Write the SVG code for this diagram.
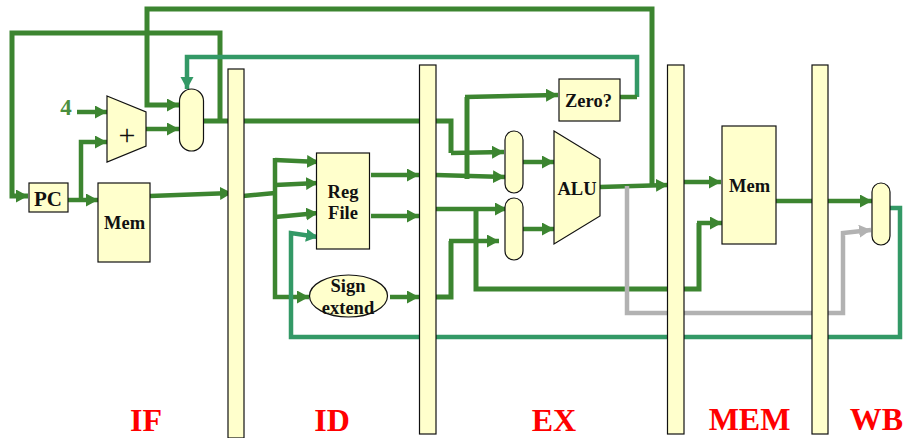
<svg xmlns="http://www.w3.org/2000/svg" width="904" height="438" viewBox="0 0 904 438">
<style>
.w{fill:none;stroke:#3c8530;stroke-width:4.500;stroke-linejoin:miter}
.b{stroke-width:5}
.t{fill:none;stroke:#339966;stroke-width:4.500}
.g{fill:none;stroke:#b2b2b2;stroke-width:4.500}
.n{fill:#ffffcc;stroke:#111;stroke-width:1.200}
.l{font-family:"Liberation Serif",serif;font-weight:700;font-size:18.500px;fill:#111;text-anchor:middle}
.s{font-family:"Liberation Serif",serif;font-weight:700;font-size:32px;fill:#ff0000;text-anchor:middle}
</style>
<defs>
<marker id="ag" markerUnits="userSpaceOnUse" markerWidth="14" markerHeight="14" refX="12" refY="6.500" orient="auto"><path d="M0 0L12 6.500L0 13Z" fill="#3c8530"/></marker>
<marker id="at" markerUnits="userSpaceOnUse" markerWidth="14" markerHeight="14" refX="12" refY="6.500" orient="auto"><path d="M0 0L12 6.500L0 13Z" fill="#339966"/></marker>
<marker id="ay" markerUnits="userSpaceOnUse" markerWidth="14" markerHeight="14" refX="12" refY="6.500" orient="auto"><path d="M0 0L12 6.500L0 13Z" fill="#b2b2b2"/></marker>
</defs>
<g id="connectors">
<path class="w b" d="M652 186V9H147V105H179" marker-end="url(#ag)"/>
<path class="w b" d="M220 121V33H12V196H28" marker-end="url(#ag)"/>
<path class="t b" d="M637 97V57H187V89" marker-end="url(#at)"/>
<path class="w" d="M620 97H637"/>
<path class="w" d="M77 112H107" marker-end="url(#ag)"/>
<path class="w" d="M146 129H179" marker-end="url(#ag)"/>
<path class="w" d="M81 199V142H107" marker-end="url(#ag)"/>
<path class="w" d="M68 200H98" marker-end="url(#ag)"/>
<path class="w" d="M150 196L232 193" marker-end="url(#ag)"/>
<path class="w" d="M243 196L275 193"/>
<path class="w" d="M275 160L319 162" marker-end="url(#ag)"/>
<path class="w" d="M275 158V297H309" marker-end="url(#ag)"/>
<path class="w" d="M275 185L318 183" marker-end="url(#ag)"/>
<path class="w" d="M275 217L318 213" marker-end="url(#ag)"/>
<path class="w" d="M371 175H419" marker-end="url(#ag)"/>
<path class="w" d="M371 216H419" marker-end="url(#ag)"/>
<path class="w" d="M390 297H419" marker-end="url(#ag)"/>
<path class="w b" d="M203 121H451V153"/>
<path class="w" d="M451 153L504 152" marker-end="url(#ag)"/>
<path class="w" d="M436 175L505 177" marker-end="url(#ag)"/>
<path class="w b" d="M467 179V97"/>
<path class="w" d="M465 97L558 95" marker-end="url(#ag)"/>
<path class="w" d="M436 209H507" marker-end="url(#ag)"/>
<path class="w b" d="M476 209V289H699V223"/>
<path class="w" d="M697 223H722" marker-end="url(#ag)"/>
<path class="w b" d="M436 297H451V241"/>
<path class="w" d="M449 241H499" marker-end="url(#ag)"/>
<path class="w" d="M523 162H554" marker-end="url(#ag)"/>
<path class="w" d="M523 229H554" marker-end="url(#ag)"/>
<path class="w" d="M600 187L668 185" marker-end="url(#ag)"/>
<path class="w" d="M684 182H721" marker-end="url(#ag)"/>
<path class="w" d="M773 201H872" marker-end="url(#ag)"/>
<path class="g b" d="M627 186V313H843V233L871 230" marker-end="url(#ay)"/>
<path class="t" d="M890 208H900V337H291V233L318 237" marker-end="url(#at)"/>
</g>
<g id="adder"><polygon class="n" points="107,96 146,112 146,146 107,162"/><text x="127" y="145" style="font-family:'Liberation Serif',serif;font-size:30px;text-anchor:middle;fill:#111">+</text></g>
<g id="four"><text x="66" y="115" style="font-family:'Liberation Serif',serif;font-weight:700;font-size:23px;text-anchor:middle;fill:#4a8f3e">4</text></g>
<g id="pc"><rect class="n" x="29" y="183" width="39" height="29"/><text class="l" x="48" y="206" style="font-size:21px">PC</text></g>
<g id="imem"><rect class="n" x="98" y="183" width="52" height="79"/><text class="l" x="124.500" y="229">Mem</text></g>
<g id="pcmux"><rect class="n" x="179.500" y="89" width="24" height="62" rx="12"/></g>
<g id="if-id"><rect class="n" x="228" y="69" width="16" height="369"/></g>
<g id="regfile"><rect class="n" x="316.500" y="153" width="53" height="96"/><text class="l" x="343" y="198">Reg</text><text class="l" x="343" y="219">File</text></g>
<g id="sign"><ellipse class="n" cx="348.500" cy="296" rx="39" ry="21"/><text class="l" x="348" y="292">Sign</text><text class="l" x="348" y="314">extend</text></g>
<g id="id-ex"><rect class="n" x="419.500" y="65" width="16.500" height="369"/></g>
<g id="zero"><rect class="n" x="559" y="79" width="61" height="42"/><text class="l" x="588.500" y="107">Zero?</text></g>
<g id="mux1"><rect class="n" x="505" y="131" width="18" height="62" rx="9"/></g>
<g id="mux2"><rect class="n" x="505" y="198" width="18" height="62" rx="9"/></g>
<g id="alu"><polygon class="n" points="554,131 600,159 600,216 554,244"/><text class="l" x="577" y="195">ALU</text></g>
<g id="ex-mem"><rect class="n" x="667.500" y="65" width="16.500" height="369"/></g>
<g id="dmem"><rect class="n" x="722" y="126" width="54" height="118"/><text class="l" x="749.500" y="192">Mem</text></g>
<g id="mem-wb"><rect class="n" x="812" y="65" width="16" height="369"/></g>
<g id="wbmux"><rect class="n" x="872" y="183" width="18" height="62" rx="9"/></g>
<g id="stages">
<text class="s" x="146" y="431">IF</text>
<text class="s" x="332" y="431">ID</text>
<text class="s" x="554" y="431">EX</text>
<text class="s" x="749.500" y="430">MEM</text>
<text class="s" x="876.500" y="430">WB</text>
</g>
</svg>
